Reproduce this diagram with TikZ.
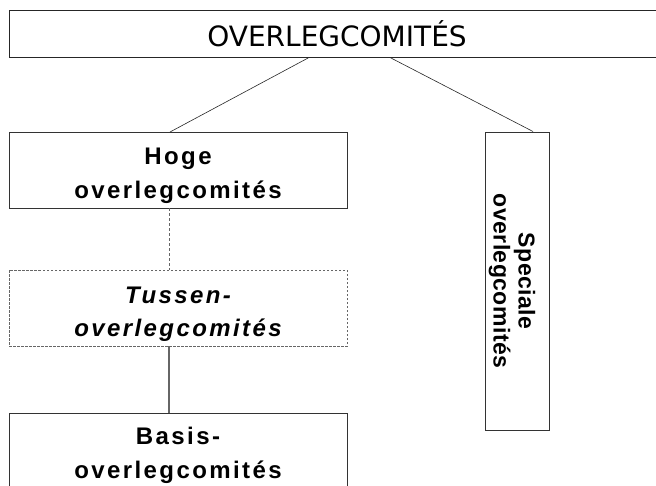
\documentclass[tikz,border=0pt]{standalone}
\usepackage{fontspec}
\setmainfont{Liberation Sans}
\newfontfamily\tahomafont{DejaVu Sans}
\newfontfamily\spacedfont[LetterSpace=10]{Liberation Sans}
\newfontfamily\tightfont[LetterSpace=2]{Liberation Sans}
\usetikzlibrary{calc,positioning}

% two centred lines, lowered a little inside the box
\newcommand{\comtext}[3][-5pt]{\raisebox{#1}[\height][\depth]{\begin{tabular}{@{}c@{}}#2\\#3\end{tabular}}}

\begin{document}
\begin{tikzpicture}[
    x=1pt, y=-1pt,
    node distance=62pt,
    comite/.style={draw=black!80, line width=1pt, inner sep=0pt, outer sep=0pt,
                   minimum width=338pt, minimum height=76pt,
                   font=\spacedfont\bfseries\fontsize{24}{34}\selectfont},
    link/.style={draw=black!85, line width=0.6pt},
    vlink/.style={draw=black!60, line width=1.4pt}
]
\useasboundingbox (0,0) rectangle (656,485);

% 1) top box
\node[draw=black!85, line width=1pt, inner sep=0pt, minimum width=656pt, minimum height=47pt,
      font=\tahomafont\fontsize{28}{32}\selectfont] (top) at (337,33.5) {OVERLEGCOMITÉS};

% 2) Hoge
\node[comite] (hoge) at (178,170) {\comtext{Hoge}{overlegcomités}};
\draw[link] ([xshift=-28pt]top.south) -- ([xshift=-8pt]hoge.north);

% 3) Tussen (dashed)
\node[comite, draw=black!60, dash pattern=on 2.5pt off 1.5pt, below=of hoge,
      font=\spacedfont\bfseries\itshape\fontsize{24}{33}\selectfont] (tussen) {\comtext{Tussen-}{overlegcomités}};
\draw[draw=black!60, line width=1pt, dash pattern=on 3pt off 2pt] ([xshift=-9pt]hoge.south) -- ([xshift=-9pt]tussen.north);

% 4) Basis
\node[comite, below=67pt of tussen] (basis) {\comtext[-4pt]{Basis-}{overlegcomités}};
\draw[vlink] ([xshift=-9pt]tussen.south) -- ([xshift=-9pt]basis.north);

% 5) Speciale (rotated)
\node[draw=black!80, line width=1pt, rotate=-90, inner sep=0pt,
      minimum width=298pt, minimum height=64pt,
      font=\tightfont\bfseries\fontsize{23}{25}\selectfont] (spec) at (517,281)
      {\comtext[-6pt]{Speciale}{overlegcomités}};
\draw[link] ([xshift=53pt]top.south) -- ([xshift=16pt]spec.west);
\end{tikzpicture}
\end{document}
